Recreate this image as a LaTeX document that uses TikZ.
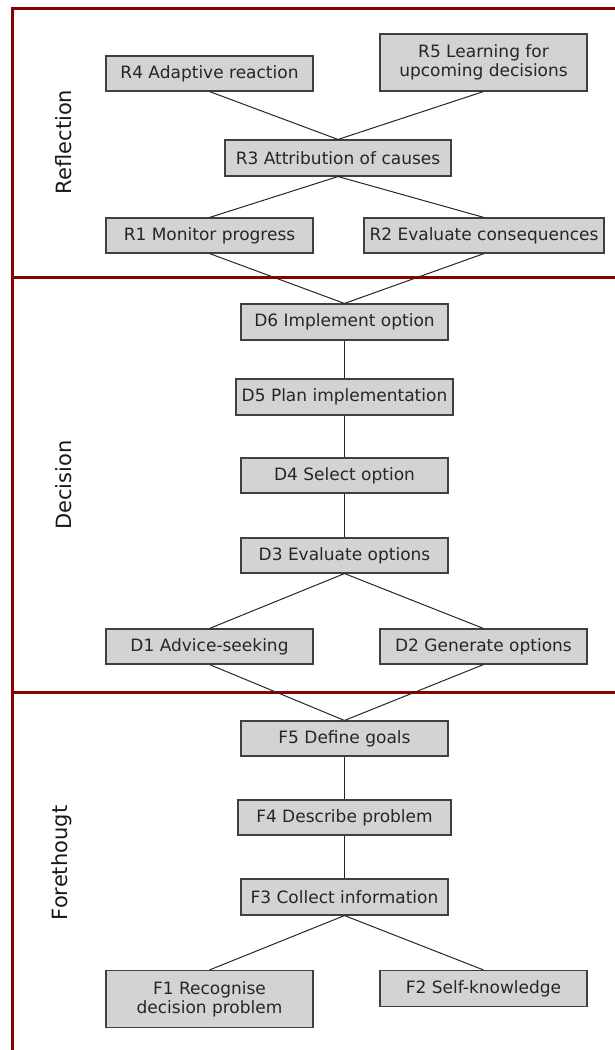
\documentclass[tikz,border=0pt]{standalone}
\usepackage{fontspec}
\setmainfont{DejaVu Sans}
\usepackage{tikz}
\usetikzlibrary{positioning}
\definecolor{PhaseRed}{HTML}{8B0000}
\definecolor{BoxGray}{HTML}{D3D3D3}
\tikzset{
  stepbox/.style={rectangle, draw=black!75, fill=BoxGray, line width=1.1pt, minimum width=207pt, minimum height=35pt, inner sep=0pt, text=black!85, font=\fontsize{17}{19}\selectfont, align=center},
  phaselabel/.style={rotate=90, text=black!90, font=\fontsize{21}{24}\selectfont},
  link/.style={line width=1pt, black!85},
  phaseline/.style={line width=3pt, PhaseRed}
}

\begin{document}
\begin{tikzpicture}[x=1pt, y=-1pt]
  \useasboundingbox (0,0) rectangle (615,1050);

  % phase frame
  \draw[phaseline] (12.5,1052) -- (12.5,8.5) -- (617,8.5);
  \draw[phaseline] (12.5,277.5) -- (617,277.5);
  \draw[phaseline] (12.5,692.5) -- (617,692.5);
  \draw[phaseline] (12.5,1052) -- (617,1052);

  \node[phaselabel] (reflection) at (64,142) {Reflection};
  \node[phaselabel] (decision) at (64,485) {Decision};
  \node[phaselabel] (forethougt) at (62,863) {Forethougt};

  % reflection
  \node[stepbox] (r4) at (209.5,73.5) {R4 Adaptive reaction};
  \node[stepbox, minimum height=57pt] (r5) at (483.5,62.5) {R5 Learning for\\upcoming decisions};
  \node[stepbox, minimum width=226pt, minimum height=36pt] (r3) at (338,158) {R3 Attribution of causes};
  \node[stepbox] (r1) at (209.5,235.5) {R1 Monitor progress};
  \node[stepbox, minimum width=240pt] (r2) at (484,235.5) {R2 Evaluate consequences};

  % decision
  \node[stepbox, minimum height=36pt] (d6) at (344.5,322) {D6 Implement option};
  \node[stepbox, minimum width=217pt, minimum height=36pt] (d5) at (344.5,397) {D5 Plan implementation};
  \node[stepbox] (d4) at (344.5,475.5) {D4 Select option};
  \node[stepbox] (d3) at (344.5,555.5) {D3 Evaluate options};
  \node[stepbox] (d1) at (209.5,646.5) {D1 Advice-seeking};
  \node[stepbox] (d2) at (483.5,646.5) {D2 Generate options};

  % forethought
  \node[stepbox] (f5) at (344.5,738.5) {F5 Define goals};
  \node[stepbox, minimum width=213pt] (f4) at (344.5,817.5) {F4 Describe problem};
  \node[stepbox, minimum height=36pt] (f3) at (344.5,897) {F3 Collect information};
  \node[stepbox, minimum height=57pt] (f1) at (209.5,999) {F1 Recognise\\decision problem};
  \node[stepbox, minimum height=36pt] (f2) at (483.5,988.5) {F2 Self-knowledge};

  \foreach \a/\b in {r4/r3, r5/r3, r3/r1, r3/r2, r1/d6, r2/d6, d6/d5, d5/d4, d4/d3,
                     d3/d1, d3/d2, d1/f5, d2/f5, f5/f4, f4/f3, f3/f1, f3/f2}
    \draw[link] (\a.south) -- (\b.north);
\end{tikzpicture}
\end{document}
